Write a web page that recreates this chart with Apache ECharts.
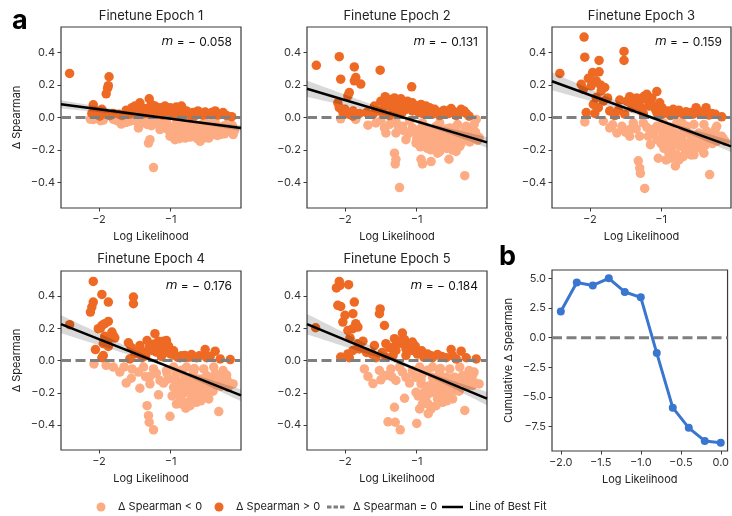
<!DOCTYPE html>
<html><head><meta charset="utf-8">
<script src="https://cdn.jsdelivr.net/npm/echarts@6/dist/echarts.min.js"></script>
<style>html,body{margin:0;padding:0;background:#fff}#c{width:732px;height:516px}</style>
</head><body><div id="c"></div>
<script>
// ---------- DATA ----------
const titles = ['Finetune Epoch 1','Finetune Epoch 2','Finetune Epoch 3','Finetune Epoch 4','Finetune Epoch 5'];
const slopes = [-0.058,-0.131,-0.159,-0.176,-0.184];
const intercepts = [-0.066,-0.155,-0.180,-0.220,-0.240];
const ciK = [0.016,0.032,0.035,0.036,0.041];
const ciA = [0.006,0.010,0.010,0.010,0.010];
const ciCenter = -1.0;
const xTicks = [-2,-1];
const yTicks = [-0.4,-0.2,0,0.2,0.4];
const xRange = [-2.53,-0.02];
const yRange = [-0.555,0.555];

const epoch1 = [[-2.41,0.27],[-1.86,0.25],[-1.87,0.195],[-1.88,0.18],[-1.90,0.145],[-2.08,0.078],[-1.96,0.05],[-2.10,0.025],[-2.03,0.02],[-1.85,0.012],[-1.80,0.025],[-1.30,0.115],[-1.54,0.06],[-1.50,0.07],[-1.43,0.09],[-1.45,0.05],[-1.38,0.04],[-1.33,0.055],[-1.22,0.07],[-1.20,0.04],[-1.15,0.025],[-1.08,0.07],[-1.06,0.05],[-1.01,0.06],[-0.96,0.04],[-0.92,0.065],[-0.85,0.07],[-0.87,0.033],[-0.80,0.025],[-0.73,0.02],[-0.66,0.012],[-0.59,0.025],[-0.52,0.033],[-0.47,0.02],[-0.38,0.04],[-0.31,0.02],[-0.22,0.012],[-0.15,0.005],[-1.61,0.025],[-1.57,0.02],[-1.68,0.012],[-1.29,0.02],[-1.13,0.06],[-1.27,0.08],[-1.47,0.033],[-1.40,0.06],[-0.89,0.03],[-0.71,0.008],[-1.01,0.02],[-1.99,0.008],
[-1.52,0.03],[-1.48,0.045],[-1.36,0.025],[-1.25,0.05],[-1.17,0.045],[-1.10,0.035],[-1.03,0.03],[-0.98,0.055],[-0.94,0.02],[-0.83,0.05],[-0.78,0.04],[-0.69,0.03],[-0.62,0.04],[-0.55,0.015],[-0.43,0.03],[-0.34,0.015],[-0.27,0.03],[-1.62,0.045],[-1.72,0.02],[-2.05,0.04],[-1.93,0.03],[-1.18,0.06],[-1.11,0.015],
[-1.24,-0.307],[-1.31,-0.157],[-1.29,-0.136],[-1.45,-0.064],[-1.69,-0.04],[-2.08,-0.012],[-1.94,-0.016],[-1.80,-0.012],[-1.57,-0.023],[-1.43,-0.033],[-1.33,-0.043],[-1.20,-0.033],[-1.15,-0.074],[-1.10,-0.054],[-1.01,-0.115],[-0.96,-0.095],[-0.92,-0.064],[-0.87,-0.115],[-0.82,-0.085],[-0.75,-0.054],[-0.71,-0.105],[-0.64,-0.074],[-0.59,-0.146],[-0.54,-0.126],[-0.50,-0.095],[-0.45,-0.064],[-0.40,-0.105],[-0.33,-0.085],[-0.27,-0.054],[-0.22,-0.043],[-0.13,-0.105],[-0.17,-0.033],[-1.06,-0.023],[-0.78,-0.023],[-0.92,-0.033],[-0.68,-0.033],[-0.57,-0.043],[-0.43,-0.033],[-0.36,-0.054],[-0.94,-0.136],[-0.66,-0.115],[-0.52,-0.074],[-0.80,-0.126],[-0.61,-0.095],[-0.31,-0.105],[-1.24,-0.016],[-1.36,-0.012],[-0.73,-0.074],[-0.47,-0.126],[-1.04,-0.074],
[-1.12,-0.03],[-1.05,-0.045],[-0.98,-0.06],[-0.90,-0.085],[-0.85,-0.045],[-0.80,-0.07],[-0.76,-0.1],[-0.70,-0.04],[-0.66,-0.09],[-0.62,-0.06],[-0.56,-0.1],[-0.53,-0.03],[-0.49,-0.06],[-0.46,-0.1],[-0.41,-0.08],[-0.38,-0.03],[-0.35,-0.11],[-0.30,-0.07],[-0.25,-0.1],[-0.19,-0.07],[-0.14,-0.05],[-0.11,-0.08],[-0.88,-0.13],[-0.73,-0.12],[-0.63,-0.13],[-1.00,-0.085],[-1.50,-0.02],[-1.62,-0.03],[-1.75,-0.02],[-1.98,-0.02],[-2.12,-0.01],[-1.27,-0.05],[-1.18,-0.02]];

const epoch2 = [[-2.40,0.32],[-2.08,0.373],[-1.87,0.31],[-1.51,0.29],[-2.06,0.235],[-1.85,0.245],[-1.87,0.225],[-1.78,0.205],[-1.07,0.188],[-1.94,0.153],[-1.96,0.132],[-2.10,0.09],[-2.08,0.06],[-2.03,0.033],[-1.89,0.04],[-1.80,0.025],[-1.59,0.07],[-1.44,0.128],[-1.38,0.11],[-1.31,0.12],[-1.22,0.115],[-1.43,0.09],[-1.36,0.07],[-1.29,0.07],[-1.20,0.08],[-1.13,0.10],[-1.06,0.09],[-0.99,0.07],[-0.94,0.08],[-0.87,0.07],[-0.82,0.06],[-0.75,0.05],[-1.15,0.05],[-1.06,0.04],[-1.29,0.03],[-1.47,0.025],[-1.61,0.02],[-0.66,0.033],[-0.52,0.055],[-0.38,0.05],[-0.68,0.012],[-0.59,0.02],[-0.45,0.012],[-0.31,0.025],[-0.27,0.008],[-0.92,0.025],[-1.38,0.012],[-1.89,0.008],[-1.20,0.033],
[-1.50,0.1],[-1.46,0.06],[-1.40,0.095],[-1.33,0.04],[-1.25,0.095],[-1.18,0.06],[-1.10,0.07],[-1.02,0.05],[-0.97,0.03],[-0.90,0.05],[-0.85,0.035],[-0.78,0.02],[-0.72,0.03],[-0.62,0.045],[-0.55,0.025],[-0.48,0.035],[-0.42,0.02],[-0.34,0.04],[-2.00,0.05],[-1.95,0.02],[-1.70,0.03],[-1.55,0.04],
[-1.24,-0.43],[-0.33,-0.357],[-1.31,-0.219],[-1.29,-0.256],[-1.30,-0.285],[-0.94,-0.256],[-0.92,-0.285],[-0.80,-0.27],[-0.55,-0.256],[-0.71,-0.219],[-0.80,-0.198],[-1.01,-0.157],[-0.92,-0.115],[-1.15,-0.136],[-1.29,-0.095],[-1.43,-0.095],[-1.45,-0.064],[-1.68,-0.047],[-2.06,-0.008],[-1.85,-0.012],[-1.57,-0.033],[-1.38,-0.043],[-1.20,-0.054],[-1.06,-0.064],[-0.96,-0.074],[-0.87,-0.095],[-0.78,-0.085],[-0.71,-0.115],[-0.64,-0.095],[-0.59,-0.136],[-0.50,-0.115],[-0.43,-0.146],[-0.36,-0.095],[-0.31,-0.126],[-0.24,-0.136],[-0.13,-0.122],[-0.17,-0.012],[-0.31,-0.054],[-0.43,-0.043],[-0.68,-0.033],[-0.54,-0.064],[-0.75,-0.146],[-0.64,-0.177],[-0.45,-0.208],[-0.85,-0.167],[-0.96,-0.146],[-0.61,-0.146],[-0.52,-0.177],[-0.40,-0.177],[-0.22,-0.074],[-1.10,-0.023],[-0.92,-0.033],[-1.29,-0.023],[-0.47,-0.085],[-0.57,-0.095],[-0.73,-0.054],[-0.71,-0.177],[-0.36,-0.136],[-0.20,-0.043],[-1.01,-0.095],
[-1.00,-0.13],[-0.98,-0.1],[-0.90,-0.14],[-0.88,-0.06],[-0.83,-0.12],[-0.79,-0.15],[-0.76,-0.1],[-0.69,-0.08],[-0.67,-0.14],[-0.62,-0.12],[-0.60,-0.07],[-0.56,-0.16],[-0.53,-0.1],[-0.48,-0.13],[-0.46,-0.06],[-0.41,-0.11],[-0.38,-0.16],[-0.33,-0.08],[-0.29,-0.1],[-0.26,-0.15],[-0.22,-0.11],[-0.18,-0.09],[-0.15,-0.14],[-1.12,-0.1],[-1.18,-0.08],[-1.25,-0.06],[-1.33,-0.03],[-1.50,-0.02],[-0.85,-0.19],[-0.68,-0.21],[-0.58,-0.19],[-0.50,-0.2],[-0.95,-0.18]];

const epoch3 = [[-2.08,0.493],[-2.07,0.37],[-1.87,0.35],[-1.52,0.405],[-1.52,0.35],[-2.42,0.27],[-1.96,0.276],[-1.87,0.28],[-1.91,0.225],[-2.12,0.204],[-1.98,0.194],[-1.79,0.184],[-1.84,0.163],[-2.09,0.173],[-1.91,0.122],[-1.81,0.10],[-1.95,0.08],[-2.05,0.03],[-1.93,0.025],[-1.58,0.107],[-1.44,0.128],[-1.37,0.09],[-1.20,0.142],[-1.20,0.11],[-1.06,0.159],[-1.15,0.09],[-1.30,0.10],[-1.41,0.06],[-1.32,0.07],[-1.11,0.07],[-0.99,0.06],[-0.94,0.04],[-0.83,0.05],[-0.78,0.025],[-0.69,0.02],[-0.51,0.06],[-0.37,0.06],[-0.15,0.004],[-0.59,0.03],[-0.45,0.02],[-0.29,0.025],[-0.87,0.012],[-1.51,0.02],[-1.25,0.025],[-1.06,0.03],[-1.65,0.012],[-1.72,0.04],
[-1.48,0.1],[-1.40,0.08],[-1.34,0.12],[-1.28,0.06],[-1.24,0.13],[-1.17,0.07],[-1.13,0.12],[-1.08,0.05],[-1.02,0.09],[-0.96,0.025],[-0.90,0.04],[-0.75,0.045],[-0.65,0.035],[-0.55,0.02],[-0.48,0.04],[-0.41,0.03],[-0.33,0.015],[-0.24,0.02],[-1.88,0.06],[-1.75,0.12],[-1.85,0.2],[-2.02,0.24],[-1.60,0.045],
[-1.23,-0.435],[-0.32,-0.35],[-1.32,-0.266],[-1.30,-0.31],[-1.29,-0.342],[-0.93,-0.26],[-0.80,-0.297],[-1.04,-0.25],[-0.89,-0.219],[-0.78,-0.229],[-0.66,-0.219],[-0.54,-0.229],[-0.64,-0.177],[-0.50,-0.167],[-0.40,-0.219],[-0.73,-0.177],[-0.85,-0.157],[-0.94,-0.146],[-1.15,-0.167],[-1.06,-0.136],[-1.18,-0.115],[-1.30,-0.115],[-1.44,-0.115],[-1.44,-0.074],[-1.62,-0.095],[-1.72,-0.064],[-1.55,-0.054],[-2.07,-0.027],[-1.81,-0.023],[-1.39,-0.033],[-1.25,-0.033],[-1.06,-0.054],[-0.92,-0.085],[-0.80,-0.095],[-0.69,-0.064],[-0.59,-0.105],[-0.47,-0.095],[-0.36,-0.085],[-0.26,-0.115],[-0.15,-0.115],[-0.10,-0.146],[-0.22,-0.146],[-0.31,-0.146],[-0.43,-0.136],[-0.57,-0.136],[-0.71,-0.126],[-0.83,-0.126],[-0.97,-0.105],[-0.54,-0.043],[-0.40,-0.043],[-0.22,-0.054],[-0.78,-0.033],[-0.97,-0.033],[-0.64,-0.054],[-0.45,-0.188],[-0.59,-0.198],[-0.75,-0.26],[-0.87,-0.25],[-0.24,-0.074],[-1.15,-0.074],
[-1.00,-0.16],[-0.96,-0.19],[-0.90,-0.12],[-0.86,-0.19],[-0.82,-0.14],[-0.77,-0.17],[-0.74,-0.11],[-0.69,-0.15],[-0.66,-0.09],[-0.62,-0.2],[-0.61,-0.16],[-0.56,-0.11],[-0.53,-0.19],[-0.49,-0.13],[-0.45,-0.15],[-0.42,-0.11],[-0.38,-0.17],[-0.35,-0.12],[-0.31,-0.1],[-0.28,-0.16],[-0.25,-0.13],[-0.19,-0.12],[-0.13,-0.13],[-0.69,-0.24],[-0.58,-0.23],[-0.82,-0.24],[-1.10,-0.1],[-1.20,-0.06],[-1.35,-0.07],[-1.50,-0.09],[-1.68,-0.045],[-0.71,-0.03],[-0.87,-0.06],[-1.00,-0.07]];

const epoch4 = [[-2.08,0.49],[-1.96,0.41],[-1.52,0.393],[-1.52,0.352],[-2.08,0.362],[-2.10,0.331],[-2.12,0.30],[-1.87,0.362],[-2.41,0.222],[-1.87,0.242],[-1.92,0.228],[-1.96,0.217],[-2.01,0.197],[-1.82,0.176],[-1.80,0.155],[-1.85,0.135],[-1.94,0.104],[-1.87,0.087],[-2.05,0.068],[-1.94,0.031],[-1.96,0.017],[-1.59,0.11],[-1.43,0.093],[-1.33,0.124],[-1.22,0.166],[-1.10,0.12],[-1.06,0.124],[-1.20,0.104],[-1.15,0.072],[-1.20,0.052],[-1.06,0.052],[-0.99,0.062],[-1.26,0.062],[-1.38,0.052],[-1.50,0.041],[-0.94,0.031],[-0.80,0.031],[-0.71,0.037],[-0.52,0.068],[-0.38,0.058],[-0.64,0.017],[-0.50,0.017],[-0.17,0.006],[-0.31,0.01],[-0.87,0.017],[-1.40,0.017],[-1.57,0.01],[-1.13,0.025],
[-1.30,0.08],[-1.24,0.1],[-1.17,0.12],[-1.12,0.09],[-1.08,0.07],[-1.03,0.09],[-1.00,0.04],[-0.96,0.06],[-0.90,0.02],[-0.85,0.03],[-0.75,0.02],[-0.60,0.03],[-0.45,0.025],[-1.45,0.06],[-1.55,0.08],[-1.35,0.03],[-1.98,0.2],[-1.78,0.14],[-1.92,0.15],
[-1.24,-0.43],[-1.30,-0.383],[-1.31,-0.342],[-1.33,-0.28],[-1.01,-0.346],[-0.79,-0.296],[-0.33,-0.317],[-0.92,-0.27],[-0.87,-0.228],[-0.71,-0.238],[-0.59,-0.217],[-0.47,-0.197],[-0.68,-0.186],[-0.82,-0.176],[-0.96,-0.166],[-1.17,-0.213],[-1.43,-0.172],[-1.62,-0.139],[-1.29,-0.145],[-1.15,-0.124],[-1.03,-0.114],[-1.29,-0.099],[-1.45,-0.072],[-1.71,-0.072],[-1.54,-0.052],[-2.07,-0.021],[-1.80,-0.041],[-1.38,-0.041],[-1.24,-0.052],[-1.06,-0.062],[-0.92,-0.083],[-0.80,-0.104],[-0.68,-0.072],[-0.59,-0.114],[-0.50,-0.093],[-0.38,-0.083],[-0.27,-0.124],[-0.13,-0.145],[-0.22,-0.114],[-0.31,-0.155],[-0.43,-0.155],[-0.54,-0.155],[-0.66,-0.145],[-0.75,-0.155],[-0.40,-0.041],[-0.54,-0.052],[-0.78,-0.041],[-0.96,-0.041],[-0.27,-0.062],[-0.64,-0.259],[-0.80,-0.259],[-0.47,-0.238],[-0.89,-0.135],[-0.20,-0.166],
[-1.10,-0.14],[-0.98,-0.22],[-0.94,-0.12],[-0.90,-0.2],[-0.85,-0.16],[-0.80,-0.2],[-0.77,-0.13],[-0.73,-0.19],[-0.70,-0.1],[-0.66,-0.22],[-0.63,-0.16],[-0.58,-0.13],[-0.55,-0.2],[-0.52,-0.11],[-0.48,-0.16],[-0.45,-0.12],[-0.41,-0.19],[-0.37,-0.13],[-0.34,-0.1],[-0.30,-0.16],[-0.26,-0.13],[-0.22,-0.09],[-0.18,-0.14],[-0.84,-0.27],[-0.73,-0.28],[-0.58,-0.25],[-1.05,-0.08],[-1.20,-0.08],[-1.35,-0.1],[-1.55,-0.11],[-1.65,-0.04],[-1.90,-0.03],[-0.67,-0.05],[-0.85,-0.06]];

const epoch5 = [[-2.08,0.49],[-2.07,0.466],[-2.12,0.45],[-1.95,0.47],[-2.10,0.342],[-2.06,0.335],[-1.87,0.362],[-1.51,0.32],[-1.52,0.29],[-1.45,0.217],[-1.89,0.29],[-2.03,0.238],[-1.85,0.228],[-1.82,0.207],[-1.89,0.197],[-1.96,0.186],[-2.41,0.203],[-1.20,0.17],[-1.06,0.114],[-1.31,0.135],[-1.59,0.093],[-1.43,0.104],[-1.20,0.104],[-1.15,0.072],[-1.06,0.062],[-0.96,0.052],[-1.29,0.062],[-1.82,0.104],[-1.80,0.072],[-1.89,0.062],[-1.96,0.041],[-2.06,0.021],[-1.94,0.017],[-0.85,0.041],[-0.71,0.037],[-0.52,0.068],[-0.38,0.058],[-0.17,0.01],[-0.31,0.017],[-0.59,0.017],[-0.45,0.01],[-0.78,0.017],[-1.43,0.021],[-1.57,0.017],[-1.15,0.031],[-1.33,0.031],
[-1.38,0.08],[-1.30,0.09],[-1.25,0.12],[-1.17,0.13],[-1.12,0.09],[-1.08,0.08],[-1.02,0.09],[-0.99,0.04],[-0.93,0.06],[-0.90,0.02],[-0.80,0.03],[-0.65,0.025],[-0.50,0.03],[-1.48,0.05],[-1.62,0.04],[-1.75,0.12],[-1.70,0.05],[-2.00,0.28],[-1.93,0.14],
[-1.23,-0.43],[-1.30,-0.383],[-1.40,-0.38],[-1.00,-0.39],[-1.31,-0.29],[-0.33,-0.31],[-0.80,-0.30],[-0.92,-0.27],[-1.17,-0.234],[-1.01,-0.197],[-0.87,-0.228],[-0.71,-0.238],[-0.57,-0.207],[-0.45,-0.186],[-0.68,-0.186],[-0.82,-0.166],[-1.61,-0.143],[-1.68,-0.099],[-1.73,-0.052],[-1.43,-0.093],[-1.29,-0.124],[-1.15,-0.104],[-1.01,-0.104],[-1.52,-0.062],[-1.36,-0.052],[-1.24,-0.041],[-1.06,-0.062],[-0.92,-0.083],[-0.78,-0.104],[-0.68,-0.072],[-0.59,-0.104],[-0.47,-0.104],[-0.36,-0.093],[-0.24,-0.114],[-0.13,-0.145],[-0.22,-0.155],[-0.31,-0.145],[-0.43,-0.135],[-0.54,-0.145],[-0.66,-0.145],[-0.75,-0.155],[-0.94,-0.145],[-0.40,-0.041],[-0.54,-0.052],[-0.27,-0.062],[-0.78,-0.041],[-0.96,-0.041],[-0.64,-0.259],[-0.50,-0.238],[-0.89,-0.259],[-0.20,-0.072],
[-1.10,-0.14],[-0.98,-0.22],[-0.94,-0.12],[-0.90,-0.2],[-0.85,-0.16],[-0.80,-0.2],[-0.77,-0.13],[-0.73,-0.19],[-0.70,-0.1],[-0.66,-0.22],[-0.63,-0.16],[-0.58,-0.13],[-0.55,-0.2],[-0.52,-0.11],[-0.48,-0.16],[-0.45,-0.12],[-0.41,-0.19],[-0.37,-0.13],[-0.34,-0.1],[-0.30,-0.16],[-0.26,-0.13],[-0.22,-0.09],[-0.18,-0.14],[-0.84,-0.27],[-0.73,-0.28],[-0.58,-0.25],[-1.05,-0.08],[-1.20,-0.07],[-1.35,-0.1],[-1.50,-0.12],[-0.67,-0.05],[-0.85,-0.06],[-0.96,-0.3],[-0.84,-0.33]];

const epochs = [epoch1, epoch2, epoch3, epoch4, epoch5];

const bX = [-2.0,-1.8,-1.6,-1.4,-1.2,-1.0,-0.8,-0.6,-0.4,-0.2,0.0];
const bY = [2.2,4.65,4.4,5.0,3.85,3.4,-1.3,-5.9,-7.6,-8.7,-8.85];
const bXTicks = [-2,-1.5,-1,-0.5,0];
const bYTicks = [-7.5,-5,-2.5,0,2.5,5];
const bXRange = [-2.11,0.085];
const bYRange = [-9.55,5.7];

// ---------- STYLE ----------
const FONT = 'Inter';
const LIGHT = '#fcab82';
const DARK = '#ee6a24';
const BLUE = '#3a76d0';
const GRAYD = '#7f7f7f';
const FRAME = '#3a3a3a';

const grids = [
  {left:61, top:27, width:180, height:181},
  {left:307, top:27, width:180, height:181},
  {left:552, top:27, width:179, height:181},
  {left:61, top:271, width:180, height:179},
  {left:307, top:271, width:180, height:179},
  {left:552, top:270, width:179, height:181}
].map(g => Object.assign({show:true, borderColor:FRAME, borderWidth:1.2, backgroundColor:'transparent'}, g));

const fmt = d => v => (v < 0 ? '\u2212' : '') + Math.abs(v).toFixed(d);

function xAxis(i, ticks, range, dec) {
  return {type:'value', gridIndex:i, min:range[0], max:range[1],
    name:'Log Likelihood', nameLocation:'middle', nameGap:23,
    nameTextStyle:{fontFamily:FONT, fontSize:11, color:'#222'},
    axisLine:{show:false, onZero:false}, splitLine:{show:false},
    axisTick:{show:true, customValues:ticks, length:3.5, lineStyle:{color:FRAME, width:1}},
    axisLabel:{customValues:ticks, formatter:fmt(dec), fontFamily:FONT, fontSize:11, color:'#333', margin:6}};
}
function yAxis(i, ticks, range, dec, name, gap) {
  return {type:'value', gridIndex:i, min:range[0], max:range[1],
    name:name, nameLocation:'middle', nameGap:gap, nameRotate:90,
    nameTextStyle:{fontFamily:FONT, fontSize:11, color:'#222'},
    axisLine:{show:false, onZero:false}, splitLine:{show:false},
    axisTick:{show:true, customValues:ticks, length:3.5, lineStyle:{color:FRAME, width:1}},
    axisLabel:{customValues:ticks, formatter:fmt(dec), fontFamily:FONT, fontSize:11, color:'#333', margin:6}};
}

const xAxes = [], yAxes = [], series = [];
for (let i = 0; i < 5; i++) {
  xAxes.push(xAxis(i, xTicks, xRange, 0));
  yAxes.push(yAxis(i, yTicks, yRange, 1, (i === 0 || i === 3) ? '\u0394 Spearman' : '', 39));
  const pts = epochs[i];
  series.push({type:'scatter', xAxisIndex:i, yAxisIndex:i, symbolSize:9.5, z:2,
    itemStyle:{color:LIGHT, opacity:1}, data:pts.filter(p => p[1] < 0)});
  series.push({type:'scatter', xAxisIndex:i, yAxisIndex:i, symbolSize:9.5, z:2,
    itemStyle:{color:DARK, opacity:1}, data:pts.filter(p => p[1] >= 0)});
  series.push({type:'line', xAxisIndex:i, yAxisIndex:i, z:3, showSymbol:false, silent:true,
    lineStyle:{color:GRAYD, width:3, type:[10,4.5]}, data:xRange.map(x => [x, 0])});
  const m = slopes[i], b = intercepts[i], k = ciK[i], a = ciA[i];
  series.push({type:'custom', xAxisIndex:i, yAxisIndex:i, z:4, silent:true, clip:true, data:[[0,0]],
    renderItem:(params, api) => {
      const up = [], lo = [];
      for (let j = 0; j <= 50; j++) {
        const x = xRange[0] + (xRange[1] - xRange[0]) * j / 50;
        const c = b + m * x;
        const h = Math.sqrt(a*a + k*k*(x - ciCenter)*(x - ciCenter));
        up.push(api.coord([x, c + h])); lo.push(api.coord([x, c - h]));
      }
      return {type:'polygon', shape:{points:up.concat(lo.reverse())}, style:{fill:'rgba(0,0,0,0.15)'}};
    }});
  series.push({type:'line', xAxisIndex:i, yAxisIndex:i, z:5, showSymbol:false, silent:true,
    lineStyle:{color:'#000', width:2.5}, data:xRange.map(x => [x, b + m * x])});
}
xAxes.push(xAxis(5, bXTicks, bXRange, 1));
yAxes.push(yAxis(5, bYTicks, bYRange, 1, 'Cumulative \u0394 Spearman', 38));
series.push({type:'line', xAxisIndex:5, yAxisIndex:5, z:3, showSymbol:false, silent:true,
  lineStyle:{color:GRAYD, width:3, type:[10,4.5]}, data:bXRange.map(x => [x, 0])});
series.push({type:'line', xAxisIndex:5, yAxisIndex:5, z:5, symbol:'circle', symbolSize:8, showSymbol:true,
  lineStyle:{color:BLUE, width:3}, itemStyle:{color:BLUE}, data:bX.map((x, j) => [x, bY[j]])});

// ---------- GRAPHIC TEXT ----------
const graphic = [];
titles.forEach((t, i) => {
  const g = grids[i];
  graphic.push({type:'text', x:g.left + g.width/2, y:i < 3 ? 16 : 259,
    style:{text:t, fontFamily:FONT, fontSize:13, fill:'#222', align:'center', verticalAlign:'middle'}});
  graphic.push({type:'text', x:g.left + g.width - 9, y:g.top + 15,
    style:{text:'{it|m} = \u2212 ' + Math.abs(slopes[i]).toFixed(3), fontFamily:FONT, fontSize:12, fill:'#111',
      align:'right', verticalAlign:'middle',
      rich:{it:{fontFamily:'DejaVu Sans', fontStyle:'italic', fontSize:12, fill:'#111'}}}});
});
graphic.push({type:'text', x:12, y:21, style:{text:'a', fontFamily:FONT, fontWeight:'bold', fontSize:27, fill:'#000', verticalAlign:'middle'}});
graphic.push({type:'text', x:499, y:257, style:{text:'b', fontFamily:FONT, fontWeight:'bold', fontSize:27, fill:'#000', verticalAlign:'middle'}});
const LY = 507;
const legendText = ['\u0394 Spearman < 0', '\u0394 Spearman > 0', '\u0394 Spearman = 0', 'Line of Best Fit'];
graphic.push({type:'circle', shape:{cx:101, cy:LY, r:4.5}, style:{fill:LIGHT}});
graphic.push({type:'circle', shape:{cx:219, cy:LY, r:4.5}, style:{fill:DARK}});
graphic.push({type:'line', shape:{x1:327, y1:LY, x2:345, y2:LY}, style:{stroke:GRAYD, lineWidth:3, lineDash:[4.5,2]}});
graphic.push({type:'line', shape:{x1:442, y1:LY, x2:463, y2:LY}, style:{stroke:'#000', lineWidth:2.5}});
[118, 236, 353, 469].forEach((x, j) => graphic.push({type:'text', x:x, y:LY,
  style:{text:legendText[j], fontFamily:FONT, fontSize:11, fill:'#222', verticalAlign:'middle'}}));

const chart = echarts.init(document.getElementById('c'), null, {renderer:'canvas'});
chart.setOption({animation:false, backgroundColor:'#fff', grid:grids, xAxis:xAxes, yAxis:yAxes, series:series, graphic:graphic});
</script></body></html>
